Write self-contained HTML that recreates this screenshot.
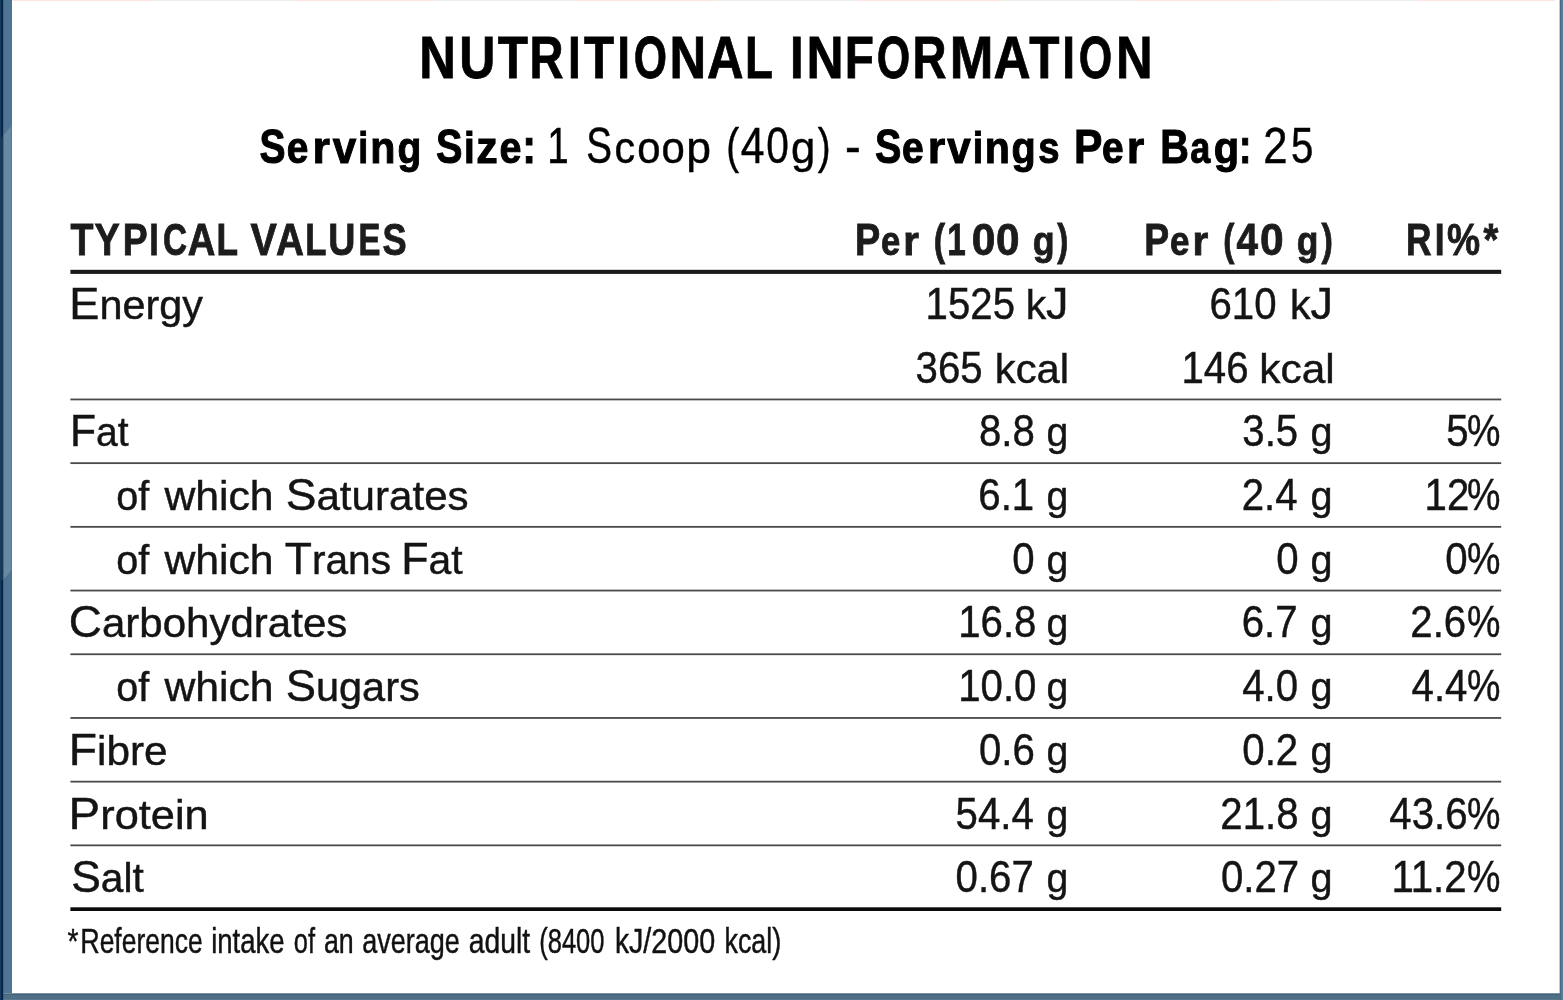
<!DOCTYPE html>
<html lang="en"><head><meta charset="utf-8"><title>Nutritional Information</title>
<style>
html,body{margin:0;padding:0;background:#fff;}
body{width:1563px;height:1000px;overflow:hidden;}
svg{display:block;}
text{font-family:"Liberation Sans", Arial, sans-serif;}
</style></head><body>
<svg width="1563" height="1000" viewBox="0 0 1563 1000">
<rect width="1563" height="1000" fill="#fff"/>
<rect x="12" y="0" width="139" height="1" fill="#fde4dc"/><rect x="295" y="0" width="141" height="1" fill="#fde4dc"/><rect x="574" y="0" width="141" height="1" fill="#fde4dc"/><rect x="858" y="0" width="143" height="1" fill="#fde4dc"/><rect x="1137" y="0" width="140" height="1" fill="#fde4dc"/><rect x="1418" y="0" width="137" height="1" fill="#fde4dc"/><rect x="151" y="0" width="144" height="1" fill="#eeeeee"/><rect x="436" y="0" width="138" height="1" fill="#eeeeee"/><rect x="715" y="0" width="143" height="1" fill="#eeeeee"/><rect x="1001" y="0" width="136" height="1" fill="#eeeeee"/><rect x="1277" y="0" width="141" height="1" fill="#eeeeee"/>
<rect x="70.4" y="269.8" width="1430.8" height="4.1" fill="#1a1a1a"/>
<rect x="70.4" y="398.55" width="1430.8" height="1.8" fill="#4a4a4a"/>
<rect x="70.4" y="462.25" width="1430.8" height="1.8" fill="#4a4a4a"/>
<rect x="70.4" y="525.95" width="1430.8" height="1.8" fill="#4a4a4a"/>
<rect x="70.4" y="589.65" width="1430.8" height="1.8" fill="#4a4a4a"/>
<rect x="70.4" y="653.35" width="1430.8" height="1.8" fill="#4a4a4a"/>
<rect x="70.4" y="717.05" width="1430.8" height="1.8" fill="#4a4a4a"/>
<rect x="70.4" y="780.75" width="1430.8" height="1.8" fill="#4a4a4a"/>
<rect x="70.4" y="844.45" width="1430.8" height="1.8" fill="#4a4a4a"/>
<rect x="70.4" y="907.3" width="1430.8" height="3.7" fill="#0a0a0a"/>
<rect x="0" y="993.3" width="1563" height="6.7" fill="#4f6f86"/>
<rect x="0" y="993.9" width="1563" height="1.1" fill="#44617a"/>
<rect x="0" y="999" width="1563" height="1" fill="#587990"/>
<rect x="3" y="0" width="9" height="993.3" fill="#4e7592"/>
<polygon points="3,136 12,125 12,570 3,580" fill="#6889a2"/>
<rect x="10.8" y="0" width="1.2" height="993.3" fill="#56708a" fill-opacity="0.55"/>
<rect x="0" y="0" width="1" height="1000" fill="#1b3c60"/>
<rect x="1" y="0" width="2.2" height="1000" fill="#03284c"/>
<polygon points="0,137 3.2,137 3.2,580 0,580" fill="#1c3b59" fill-opacity="0.85"/>
<rect x="1559.8" y="0" width="3.2" height="1000" fill="#5c7a97"/>
<rect x="1559.8" y="0" width="1.1" height="1000" fill="#48657e"/>
<g style="filter:contrast(1)">
<text y="78.20" font-weight="bold" stroke="#000" stroke-width="0.80" fill="#000"><tspan x="419.27" font-size="59.30" textLength="36.63" lengthAdjust="spacingAndGlyphs">N</tspan><tspan x="459.20" font-size="59.30" textLength="36.08" lengthAdjust="spacingAndGlyphs">U</tspan><tspan x="497.73" font-size="59.30" textLength="30.21" lengthAdjust="spacingAndGlyphs">T</tspan><tspan x="529.57" font-size="59.30" textLength="34.00" lengthAdjust="spacingAndGlyphs">R</tspan><tspan x="567.94" font-size="59.30" textLength="12.77" lengthAdjust="spacingAndGlyphs">I</tspan><tspan x="583.93" font-size="59.30" textLength="30.11" lengthAdjust="spacingAndGlyphs">T</tspan><tspan x="617.24" font-size="59.30" textLength="12.77" lengthAdjust="spacingAndGlyphs">I</tspan><tspan x="633.65" font-size="59.30" textLength="33.25" lengthAdjust="spacingAndGlyphs">O</tspan><tspan x="669.47" font-size="59.30" textLength="36.63" lengthAdjust="spacingAndGlyphs">N</tspan><tspan x="706.95" font-size="59.30" textLength="36.57" lengthAdjust="spacingAndGlyphs">A</tspan><tspan x="745.05" font-size="59.30" textLength="27.92" lengthAdjust="spacingAndGlyphs">L</tspan> <tspan x="790.07" font-size="59.30" textLength="13.59" lengthAdjust="spacingAndGlyphs">I</tspan><tspan x="806.54" font-size="59.30" textLength="37.11" lengthAdjust="spacingAndGlyphs">N</tspan><tspan x="844.63" font-size="59.30" textLength="29.21" lengthAdjust="spacingAndGlyphs">F</tspan><tspan x="876.75" font-size="59.30" textLength="33.46" lengthAdjust="spacingAndGlyphs">O</tspan><tspan x="912.57" font-size="59.30" textLength="34.00" lengthAdjust="spacingAndGlyphs">R</tspan><tspan x="949.68" font-size="59.30" textLength="43.68" lengthAdjust="spacingAndGlyphs">M</tspan><tspan x="993.54" font-size="59.30" textLength="37.09" lengthAdjust="spacingAndGlyphs">A</tspan><tspan x="1029.13" font-size="59.30" textLength="30.21" lengthAdjust="spacingAndGlyphs">T</tspan><tspan x="1062.24" font-size="59.30" textLength="12.77" lengthAdjust="spacingAndGlyphs">I</tspan><tspan x="1078.65" font-size="59.30" textLength="33.46" lengthAdjust="spacingAndGlyphs">O</tspan><tspan x="1115.97" font-size="59.30" textLength="36.63" lengthAdjust="spacingAndGlyphs">N</tspan></text>
<text y="162.90" font-weight="bold" stroke="#000" stroke-width="1.00" fill="#000"><tspan x="259.39" font-size="48.55" textLength="26.04" lengthAdjust="spacingAndGlyphs">S</tspan><tspan x="286.82" font-size="44.91" textLength="21.62" lengthAdjust="spacingAndGlyphs">e</tspan><tspan x="312.55" font-size="44.91" textLength="17.43" lengthAdjust="spacingAndGlyphs">r</tspan><tspan x="332.67" font-size="44.91" textLength="23.49" lengthAdjust="spacingAndGlyphs">v</tspan><tspan x="358.36" font-size="44.91" textLength="9.96" lengthAdjust="spacingAndGlyphs">i</tspan><tspan x="370.19" font-size="44.91" textLength="25.15" lengthAdjust="spacingAndGlyphs">n</tspan><tspan x="397.61" font-size="44.91" textLength="23.85" lengthAdjust="spacingAndGlyphs">g</tspan> <tspan x="436.09" font-size="48.55" textLength="26.45" lengthAdjust="spacingAndGlyphs">S</tspan><tspan x="463.91" font-size="44.91" textLength="10.74" lengthAdjust="spacingAndGlyphs">i</tspan><tspan x="476.34" font-size="44.91" textLength="21.42" lengthAdjust="spacingAndGlyphs">z</tspan><tspan x="499.51" font-size="44.91" textLength="21.94" lengthAdjust="spacingAndGlyphs">e</tspan><tspan x="522.36" font-size="48.55" textLength="13.75" lengthAdjust="spacingAndGlyphs">:</tspan></text>
<text y="163.18" stroke="#000" stroke-width="0.45" fill="#000"><tspan x="547.24" font-size="49.35" textLength="21.48" lengthAdjust="spacingAndGlyphs">1</tspan> <tspan x="586.18" font-size="49.35" textLength="25.76" lengthAdjust="spacingAndGlyphs">S</tspan><tspan x="614.62" font-size="45.15" textLength="20.62" lengthAdjust="spacingAndGlyphs">c</tspan><tspan x="637.30" font-size="45.15" textLength="23.29" lengthAdjust="spacingAndGlyphs">o</tspan><tspan x="661.60" font-size="45.15" textLength="23.29" lengthAdjust="spacingAndGlyphs">o</tspan><tspan x="686.34" font-size="45.15" textLength="24.74" lengthAdjust="spacingAndGlyphs">p</tspan> <tspan x="726.31" font-size="49.35" textLength="12.86" lengthAdjust="spacingAndGlyphs">(</tspan><tspan x="740.73" font-size="49.35" textLength="23.74" lengthAdjust="spacingAndGlyphs">4</tspan><tspan x="766.21" font-size="49.35" textLength="22.61" lengthAdjust="spacingAndGlyphs">0</tspan><tspan x="791.05" font-size="45.15" textLength="24.28" lengthAdjust="spacingAndGlyphs">g</tspan><tspan x="817.82" font-size="49.35" textLength="12.86" lengthAdjust="spacingAndGlyphs">)</tspan> <tspan x="845.04" font-size="49.35" textLength="15.76" lengthAdjust="spacingAndGlyphs">-</tspan></text>
<text y="162.90" font-weight="bold" stroke="#000" stroke-width="1.00" fill="#000"><tspan x="874.89" font-size="48.55" textLength="26.35" lengthAdjust="spacingAndGlyphs">S</tspan><tspan x="902.01" font-size="44.91" textLength="21.72" lengthAdjust="spacingAndGlyphs">e</tspan><tspan x="927.87" font-size="44.91" textLength="17.48" lengthAdjust="spacingAndGlyphs">r</tspan><tspan x="947.17" font-size="44.91" textLength="23.49" lengthAdjust="spacingAndGlyphs">v</tspan><tspan x="972.67" font-size="44.91" textLength="10.43" lengthAdjust="spacingAndGlyphs">i</tspan><tspan x="984.69" font-size="44.91" textLength="25.15" lengthAdjust="spacingAndGlyphs">n</tspan><tspan x="1011.50" font-size="44.91" textLength="24.19" lengthAdjust="spacingAndGlyphs">g</tspan><tspan x="1038.33" font-size="44.91" textLength="21.30" lengthAdjust="spacingAndGlyphs">s</tspan> <tspan x="1073.98" font-size="48.55" textLength="28.41" lengthAdjust="spacingAndGlyphs">P</tspan><tspan x="1101.92" font-size="44.91" textLength="21.62" lengthAdjust="spacingAndGlyphs">e</tspan><tspan x="1126.82" font-size="44.91" textLength="17.48" lengthAdjust="spacingAndGlyphs">r</tspan> <tspan x="1160.13" font-size="48.55" textLength="28.64" lengthAdjust="spacingAndGlyphs">B</tspan><tspan x="1190.24" font-size="44.91" textLength="20.03" lengthAdjust="spacingAndGlyphs">a</tspan><tspan x="1213.86" font-size="44.91" textLength="25.44" lengthAdjust="spacingAndGlyphs">g</tspan><tspan x="1239.01" font-size="48.55" textLength="12.37" lengthAdjust="spacingAndGlyphs">:</tspan></text>
<text y="163.18" stroke="#000" stroke-width="0.45" fill="#000"><tspan x="1263.35" font-size="49.35" textLength="24.32" lengthAdjust="spacingAndGlyphs">2</tspan><tspan x="1291.03" font-size="49.35" textLength="22.31" lengthAdjust="spacingAndGlyphs">5</tspan></text>
<text y="254.77" font-weight="bold" stroke="#1c1c1c" stroke-width="0.85" fill="#1c1c1c"><tspan x="70.56" font-size="44.26" textLength="22.93" lengthAdjust="spacingAndGlyphs">T</tspan><tspan x="94.47" font-size="44.26" textLength="25.27" lengthAdjust="spacingAndGlyphs">Y</tspan><tspan x="122.73" font-size="44.26" textLength="24.90" lengthAdjust="spacingAndGlyphs">P</tspan><tspan x="149.29" font-size="44.26" textLength="9.50" lengthAdjust="spacingAndGlyphs">I</tspan><tspan x="163.08" font-size="44.26" textLength="24.03" lengthAdjust="spacingAndGlyphs">C</tspan><tspan x="187.77" font-size="44.26" textLength="27.59" lengthAdjust="spacingAndGlyphs">A</tspan><tspan x="216.54" font-size="44.26" textLength="21.53" lengthAdjust="spacingAndGlyphs">L</tspan> <tspan x="250.48" font-size="44.26" textLength="26.35" lengthAdjust="spacingAndGlyphs">V</tspan><tspan x="276.07" font-size="44.26" textLength="27.90" lengthAdjust="spacingAndGlyphs">A</tspan><tspan x="305.16" font-size="44.26" textLength="21.20" lengthAdjust="spacingAndGlyphs">L</tspan><tspan x="328.20" font-size="44.26" textLength="27.13" lengthAdjust="spacingAndGlyphs">U</tspan><tspan x="358.45" font-size="44.26" textLength="21.91" lengthAdjust="spacingAndGlyphs">E</tspan><tspan x="382.58" font-size="44.26" textLength="24.12" lengthAdjust="spacingAndGlyphs">S</tspan></text>
<text y="254.77" font-weight="bold" stroke="#1c1c1c" stroke-width="0.85" fill="#1c1c1c"><tspan x="854.90" font-size="44.26" textLength="25.24" lengthAdjust="spacingAndGlyphs">P</tspan><tspan x="880.98" font-size="40.94" textLength="19.22" lengthAdjust="spacingAndGlyphs">e</tspan><tspan x="903.25" font-size="40.94" textLength="15.66" lengthAdjust="spacingAndGlyphs">r</tspan> <tspan x="933.63" font-size="44.26" textLength="11.38" lengthAdjust="spacingAndGlyphs">(</tspan><tspan x="947.37" font-size="44.26" textLength="18.52" lengthAdjust="spacingAndGlyphs">1</tspan><tspan x="971.68" font-size="44.26" textLength="23.63" lengthAdjust="spacingAndGlyphs">0</tspan><tspan x="995.88" font-size="44.26" textLength="23.52" lengthAdjust="spacingAndGlyphs">0</tspan> <tspan x="1032.75" font-size="40.94" textLength="21.87" lengthAdjust="spacingAndGlyphs">g</tspan><tspan x="1057.21" font-size="44.26" textLength="11.09" lengthAdjust="spacingAndGlyphs">)</tspan></text>
<text y="254.77" font-weight="bold" stroke="#1c1c1c" stroke-width="0.85" fill="#1c1c1c"><tspan x="1144.13" font-size="44.26" textLength="24.90" lengthAdjust="spacingAndGlyphs">P</tspan><tspan x="1169.97" font-size="40.94" textLength="19.44" lengthAdjust="spacingAndGlyphs">e</tspan><tspan x="1192.40" font-size="40.94" textLength="15.75" lengthAdjust="spacingAndGlyphs">r</tspan> <tspan x="1223.16" font-size="44.26" textLength="11.15" lengthAdjust="spacingAndGlyphs">(</tspan><tspan x="1236.57" font-size="44.26" textLength="21.51" lengthAdjust="spacingAndGlyphs">4</tspan><tspan x="1259.98" font-size="44.26" textLength="23.63" lengthAdjust="spacingAndGlyphs">0</tspan> <tspan x="1296.86" font-size="40.94" textLength="21.64" lengthAdjust="spacingAndGlyphs">g</tspan><tspan x="1321.43" font-size="44.26" textLength="11.38" lengthAdjust="spacingAndGlyphs">)</tspan></text>
<text y="254.77" font-weight="bold" stroke="#1c1c1c" stroke-width="0.85" fill="#1c1c1c"><tspan x="1406.03" font-size="44.26" textLength="25.50" lengthAdjust="spacingAndGlyphs">R</tspan><tspan x="1434.73" font-size="44.26" textLength="9.82" lengthAdjust="spacingAndGlyphs">I</tspan><tspan x="1447.08" font-size="44.26" textLength="33.09" lengthAdjust="spacingAndGlyphs">%</tspan><tspan x="1483.57" font-size="44.26" textLength="14.81" lengthAdjust="spacingAndGlyphs">*</tspan></text>
<text y="319.27" stroke="#141414" stroke-width="0.45" fill="#141414"><tspan x="69.30" font-size="44.99" textLength="133.58" lengthAdjust="spacingAndGlyphs">E<tspan font-size="41.16">nergy</tspan></tspan></text>
<text y="446.32" stroke="#141414" stroke-width="0.45" fill="#141414"><tspan x="69.88" font-size="44.99" textLength="58.68" lengthAdjust="spacingAndGlyphs">F<tspan font-size="41.16">at</tspan></tspan></text>
<text y="510.03" stroke="#141414" stroke-width="0.45" fill="#141414"><tspan x="116.28" font-size="41.16" textLength="32.97" lengthAdjust="spacingAndGlyphs">of</tspan> <tspan x="164.40" font-size="41.16" textLength="109.26" lengthAdjust="spacingAndGlyphs">which</tspan> <tspan x="285.69" font-size="44.99" textLength="183.00" lengthAdjust="spacingAndGlyphs">S<tspan font-size="41.16">aturates</tspan></tspan></text>
<text y="573.75" stroke="#141414" stroke-width="0.45" fill="#141414"><tspan x="116.28" font-size="41.16" textLength="32.97" lengthAdjust="spacingAndGlyphs">of</tspan> <tspan x="164.40" font-size="41.16" textLength="109.26" lengthAdjust="spacingAndGlyphs">which</tspan> <tspan x="284.73" font-size="44.99" textLength="106.32" lengthAdjust="spacingAndGlyphs">T<tspan font-size="41.16">rans</tspan></tspan> <tspan x="401.23" font-size="44.99" textLength="61.40" lengthAdjust="spacingAndGlyphs">F<tspan font-size="41.16">at</tspan></tspan></text>
<text y="637.46" stroke="#141414" stroke-width="0.45" fill="#141414"><tspan x="68.78" font-size="44.99" textLength="278.51" lengthAdjust="spacingAndGlyphs">C<tspan font-size="41.16">arbohydrates</tspan></tspan></text>
<text y="701.16" stroke="#141414" stroke-width="0.45" fill="#141414"><tspan x="116.28" font-size="41.16" textLength="32.97" lengthAdjust="spacingAndGlyphs">of</tspan> <tspan x="164.40" font-size="41.16" textLength="109.26" lengthAdjust="spacingAndGlyphs">which</tspan> <tspan x="285.71" font-size="44.99" textLength="134.06" lengthAdjust="spacingAndGlyphs">S<tspan font-size="41.16">ugars</tspan></tspan></text>
<text y="764.88" stroke="#141414" stroke-width="0.45" fill="#141414"><tspan x="68.72" font-size="44.99" textLength="98.87" lengthAdjust="spacingAndGlyphs">F<tspan font-size="41.16">ibre</tspan></tspan></text>
<text y="828.58" stroke="#141414" stroke-width="0.45" fill="#141414"><tspan x="68.64" font-size="44.99" textLength="140.06" lengthAdjust="spacingAndGlyphs">P<tspan font-size="41.16">rotein</tspan></tspan></text>
<text y="892.29" stroke="#141414" stroke-width="0.45" fill="#141414"><tspan x="71.13" font-size="44.99" textLength="72.61" lengthAdjust="spacingAndGlyphs">S<tspan font-size="41.16">alt</tspan></tspan></text>
<text y="319.27" stroke="#141414" stroke-width="0.45" fill="#141414"><tspan x="925.59" font-size="44.99" textLength="89.42" lengthAdjust="spacingAndGlyphs">1525</tspan> <tspan x="1025.67" font-size="41.16" textLength="42.80" lengthAdjust="spacingAndGlyphs">k<tspan font-size="44.99">J</tspan></tspan></text>
<text y="319.27" stroke="#141414" stroke-width="0.45" fill="#141414"><tspan x="1209.52" font-size="44.99" textLength="67.07" lengthAdjust="spacingAndGlyphs">610</tspan> <tspan x="1290.05" font-size="41.16" textLength="43.03" lengthAdjust="spacingAndGlyphs">k<tspan font-size="44.99">J</tspan></tspan></text>
<text y="382.77" stroke="#141414" stroke-width="0.45" fill="#141414"><tspan x="915.54" font-size="44.99" textLength="67.07" lengthAdjust="spacingAndGlyphs">365</tspan> <tspan x="994.82" font-size="41.16" textLength="74.20" lengthAdjust="spacingAndGlyphs">kcal</tspan></text>
<text y="382.77" stroke="#141414" stroke-width="0.45" fill="#141414"><tspan x="1181.49" font-size="44.99" textLength="67.07" lengthAdjust="spacingAndGlyphs">146</tspan> <tspan x="1259.38" font-size="41.16" textLength="75.38" lengthAdjust="spacingAndGlyphs">kcal</tspan></text>
<text y="446.32" stroke="#141414" stroke-width="0.45" fill="#141414"><tspan x="978.94" font-size="44.99" textLength="55.88" lengthAdjust="spacingAndGlyphs">8.8</tspan> <tspan x="1046.49" font-size="41.16" textLength="21.80" lengthAdjust="spacingAndGlyphs">g</tspan></text>
<text y="446.32" stroke="#141414" stroke-width="0.45" fill="#141414"><tspan x="1242.34" font-size="44.99" textLength="55.88" lengthAdjust="spacingAndGlyphs">3.5</tspan> <tspan x="1310.38" font-size="41.16" textLength="22.03" lengthAdjust="spacingAndGlyphs">g</tspan></text>
<text y="446.32" stroke="#141414" stroke-width="0.45" fill="#141414"><tspan x="1446.14" font-size="44.99" textLength="22.36" lengthAdjust="spacingAndGlyphs">5</tspan><tspan x="1467.01" font-size="44.99" textLength="33.42" lengthAdjust="spacingAndGlyphs">%</tspan></text>
<text y="510.03" stroke="#141414" stroke-width="0.45" fill="#141414"><tspan x="978.32" font-size="44.99" textLength="55.88" lengthAdjust="spacingAndGlyphs">6.1</tspan> <tspan x="1046.49" font-size="41.16" textLength="21.80" lengthAdjust="spacingAndGlyphs">g</tspan></text>
<text y="510.03" stroke="#141414" stroke-width="0.45" fill="#141414"><tspan x="1241.72" font-size="44.99" textLength="55.88" lengthAdjust="spacingAndGlyphs">2.4</tspan> <tspan x="1310.38" font-size="41.16" textLength="22.03" lengthAdjust="spacingAndGlyphs">g</tspan></text>
<text y="510.03" stroke="#141414" stroke-width="0.45" fill="#141414"><tspan x="1424.59" font-size="44.99" textLength="44.71" lengthAdjust="spacingAndGlyphs">12</tspan><tspan x="1467.01" font-size="44.99" textLength="33.42" lengthAdjust="spacingAndGlyphs">%</tspan></text>
<text y="573.75" stroke="#141414" stroke-width="0.45" fill="#141414"><tspan x="1012.14" font-size="44.99" textLength="22.36" lengthAdjust="spacingAndGlyphs">0</tspan> <tspan x="1046.49" font-size="41.16" textLength="21.80" lengthAdjust="spacingAndGlyphs">g</tspan></text>
<text y="573.75" stroke="#141414" stroke-width="0.45" fill="#141414"><tspan x="1276.34" font-size="44.99" textLength="22.36" lengthAdjust="spacingAndGlyphs">0</tspan> <tspan x="1310.38" font-size="41.16" textLength="22.03" lengthAdjust="spacingAndGlyphs">g</tspan></text>
<text y="573.75" stroke="#141414" stroke-width="0.45" fill="#141414"><tspan x="1445.34" font-size="44.99" textLength="22.36" lengthAdjust="spacingAndGlyphs">0</tspan><tspan x="1467.01" font-size="44.99" textLength="33.42" lengthAdjust="spacingAndGlyphs">%</tspan></text>
<text y="637.46" stroke="#141414" stroke-width="0.45" fill="#141414"><tspan x="958.19" font-size="44.99" textLength="78.24" lengthAdjust="spacingAndGlyphs">16.8</tspan> <tspan x="1046.49" font-size="41.16" textLength="21.80" lengthAdjust="spacingAndGlyphs">g</tspan></text>
<text y="637.46" stroke="#141414" stroke-width="0.45" fill="#141414"><tspan x="1241.72" font-size="44.99" textLength="55.88" lengthAdjust="spacingAndGlyphs">6.7</tspan> <tspan x="1310.38" font-size="41.16" textLength="22.03" lengthAdjust="spacingAndGlyphs">g</tspan></text>
<text y="637.46" stroke="#141414" stroke-width="0.45" fill="#141414"><tspan x="1410.32" font-size="44.99" textLength="55.88" lengthAdjust="spacingAndGlyphs">2.6</tspan><tspan x="1467.01" font-size="44.99" textLength="33.42" lengthAdjust="spacingAndGlyphs">%</tspan></text>
<text y="701.16" stroke="#141414" stroke-width="0.45" fill="#141414"><tspan x="958.19" font-size="44.99" textLength="78.24" lengthAdjust="spacingAndGlyphs">10.0</tspan> <tspan x="1046.49" font-size="41.16" textLength="21.80" lengthAdjust="spacingAndGlyphs">g</tspan></text>
<text y="701.16" stroke="#141414" stroke-width="0.45" fill="#141414"><tspan x="1242.27" font-size="44.99" textLength="55.88" lengthAdjust="spacingAndGlyphs">4.0</tspan> <tspan x="1310.38" font-size="41.16" textLength="22.03" lengthAdjust="spacingAndGlyphs">g</tspan></text>
<text y="701.16" stroke="#141414" stroke-width="0.45" fill="#141414"><tspan x="1411.57" font-size="44.99" textLength="55.88" lengthAdjust="spacingAndGlyphs">4.4</tspan><tspan x="1467.01" font-size="44.99" textLength="33.42" lengthAdjust="spacingAndGlyphs">%</tspan></text>
<text y="764.88" stroke="#141414" stroke-width="0.45" fill="#141414"><tspan x="978.94" font-size="44.99" textLength="55.88" lengthAdjust="spacingAndGlyphs">0.6</tspan> <tspan x="1046.49" font-size="41.16" textLength="21.80" lengthAdjust="spacingAndGlyphs">g</tspan></text>
<text y="764.88" stroke="#141414" stroke-width="0.45" fill="#141414"><tspan x="1242.34" font-size="44.99" textLength="55.88" lengthAdjust="spacingAndGlyphs">0.2</tspan> <tspan x="1310.38" font-size="41.16" textLength="22.03" lengthAdjust="spacingAndGlyphs">g</tspan></text>
<text y="828.58" stroke="#141414" stroke-width="0.45" fill="#141414"><tspan x="955.54" font-size="44.99" textLength="78.24" lengthAdjust="spacingAndGlyphs">54.4</tspan> <tspan x="1046.49" font-size="41.16" textLength="21.80" lengthAdjust="spacingAndGlyphs">g</tspan></text>
<text y="828.58" stroke="#141414" stroke-width="0.45" fill="#141414"><tspan x="1220.32" font-size="44.99" textLength="78.24" lengthAdjust="spacingAndGlyphs">21.8</tspan> <tspan x="1310.38" font-size="41.16" textLength="22.03" lengthAdjust="spacingAndGlyphs">g</tspan></text>
<text y="828.58" stroke="#141414" stroke-width="0.45" fill="#141414"><tspan x="1389.37" font-size="44.99" textLength="78.24" lengthAdjust="spacingAndGlyphs">43.6</tspan><tspan x="1467.01" font-size="44.99" textLength="33.42" lengthAdjust="spacingAndGlyphs">%</tspan></text>
<text y="892.29" stroke="#141414" stroke-width="0.45" fill="#141414"><tspan x="955.54" font-size="44.99" textLength="78.24" lengthAdjust="spacingAndGlyphs">0.67</tspan> <tspan x="1046.49" font-size="41.16" textLength="21.80" lengthAdjust="spacingAndGlyphs">g</tspan></text>
<text y="892.29" stroke="#141414" stroke-width="0.45" fill="#141414"><tspan x="1220.94" font-size="44.99" textLength="78.24" lengthAdjust="spacingAndGlyphs">0.27</tspan> <tspan x="1310.38" font-size="41.16" textLength="22.03" lengthAdjust="spacingAndGlyphs">g</tspan></text>
<text y="892.29" stroke="#141414" stroke-width="0.45" fill="#141414"><tspan x="1391.39" font-size="44.99" textLength="75.25" lengthAdjust="spacingAndGlyphs">11.2</tspan><tspan x="1467.01" font-size="44.99" textLength="33.42" lengthAdjust="spacingAndGlyphs">%</tspan></text>
<text y="952.67" stroke="#111" stroke-width="0.45" fill="#111"><tspan x="67.44" font-size="35.25" textLength="10.98" lengthAdjust="spacingAndGlyphs">*</tspan><tspan x="80.16" font-size="35.25" textLength="122.44" lengthAdjust="spacingAndGlyphs">R<tspan font-size="34.54">eference</tspan></tspan> <tspan x="211.16" font-size="34.54" textLength="73.48" lengthAdjust="spacingAndGlyphs">intake</tspan> <tspan x="293.87" font-size="34.54" textLength="21.18" lengthAdjust="spacingAndGlyphs">of</tspan> <tspan x="323.94" font-size="34.54" textLength="29.79" lengthAdjust="spacingAndGlyphs">an</tspan> <tspan x="362.23" font-size="34.54" textLength="97.59" lengthAdjust="spacingAndGlyphs">average</tspan> <tspan x="468.70" font-size="34.54" textLength="61.42" lengthAdjust="spacingAndGlyphs">adult</tspan> <tspan x="539.27" font-size="35.25" textLength="65.20" lengthAdjust="spacingAndGlyphs">(8400</tspan> <tspan x="614.93" font-size="34.54" textLength="100.21" lengthAdjust="spacingAndGlyphs">k<tspan font-size="35.25">J/2000</tspan></tspan> <tspan x="724.49" font-size="34.54" textLength="56.95" lengthAdjust="spacingAndGlyphs">kcal<tspan font-size="35.25">)</tspan></tspan></text>
</g>
</svg>
</body></html>
